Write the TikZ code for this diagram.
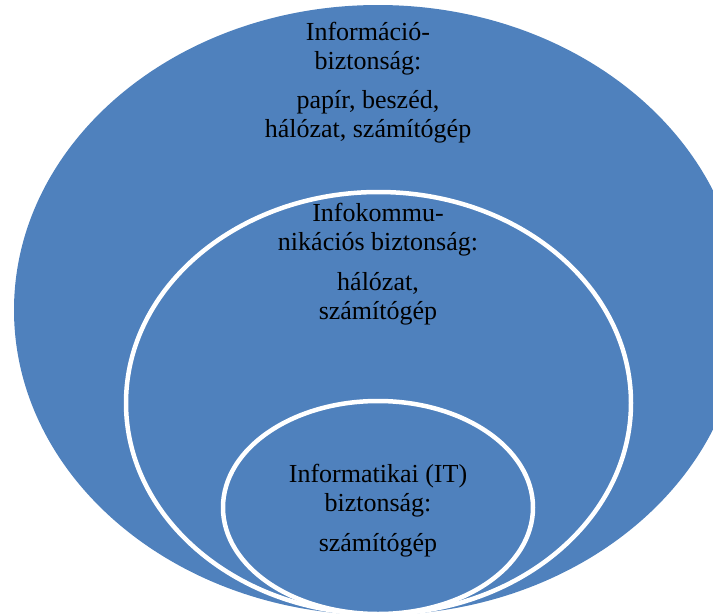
\documentclass[tikz,border=0pt]{standalone}
\usepackage{fontspec}
\setmainfont{Liberation Serif}
\begin{document}
\begin{tikzpicture}[x=1pt,y=-1pt,
  zone/.style={fill=zoneblue},
  inner zone/.style={fill=zoneblue,draw=white,line width=4.5pt},
  label/.style={anchor=base,inner sep=0pt,font=\fontsize{26}{30}\selectfont}]
\definecolor{zoneblue}{HTML}{4F81BD}
\useasboundingbox (0,0) rectangle (713,614);
\clip (0,0) rectangle (713,614);

% nested security domains
\path[zone] (378,310) ellipse [x radius=364, y radius=305];
\path[inner zone] (378.5,403) ellipse [x radius=252.5, y radius=211];
\path[inner zone] (378,507.5) ellipse [x radius=155, y radius=106.5];

% outer domain
\node[label] (o1) at (368,40) {Információ-};
\node[label] (o2) at (368,69) {biztonság:};
\node[label] (o3) at (368,108) {papír, beszéd,};
\node[label] (o4) at (368,137) {hálózat, számítógép};

% middle domain
\node[label] (m1) at (378,221) {Infokommu-};
\node[label] (m2) at (378,250) {nikációs biztonság:};
\node[label] (m3) at (378,290) {hálózat,};
\node[label] (m4) at (378,319) {számítógép};

% inner domain
\node[label] (i1) at (378,482) {Informatikai (IT)};
\node[label] (i2) at (378,511) {biztonság:};
\node[label] (i3) at (378,551) {számítógép};
\end{tikzpicture}
\end{document}
